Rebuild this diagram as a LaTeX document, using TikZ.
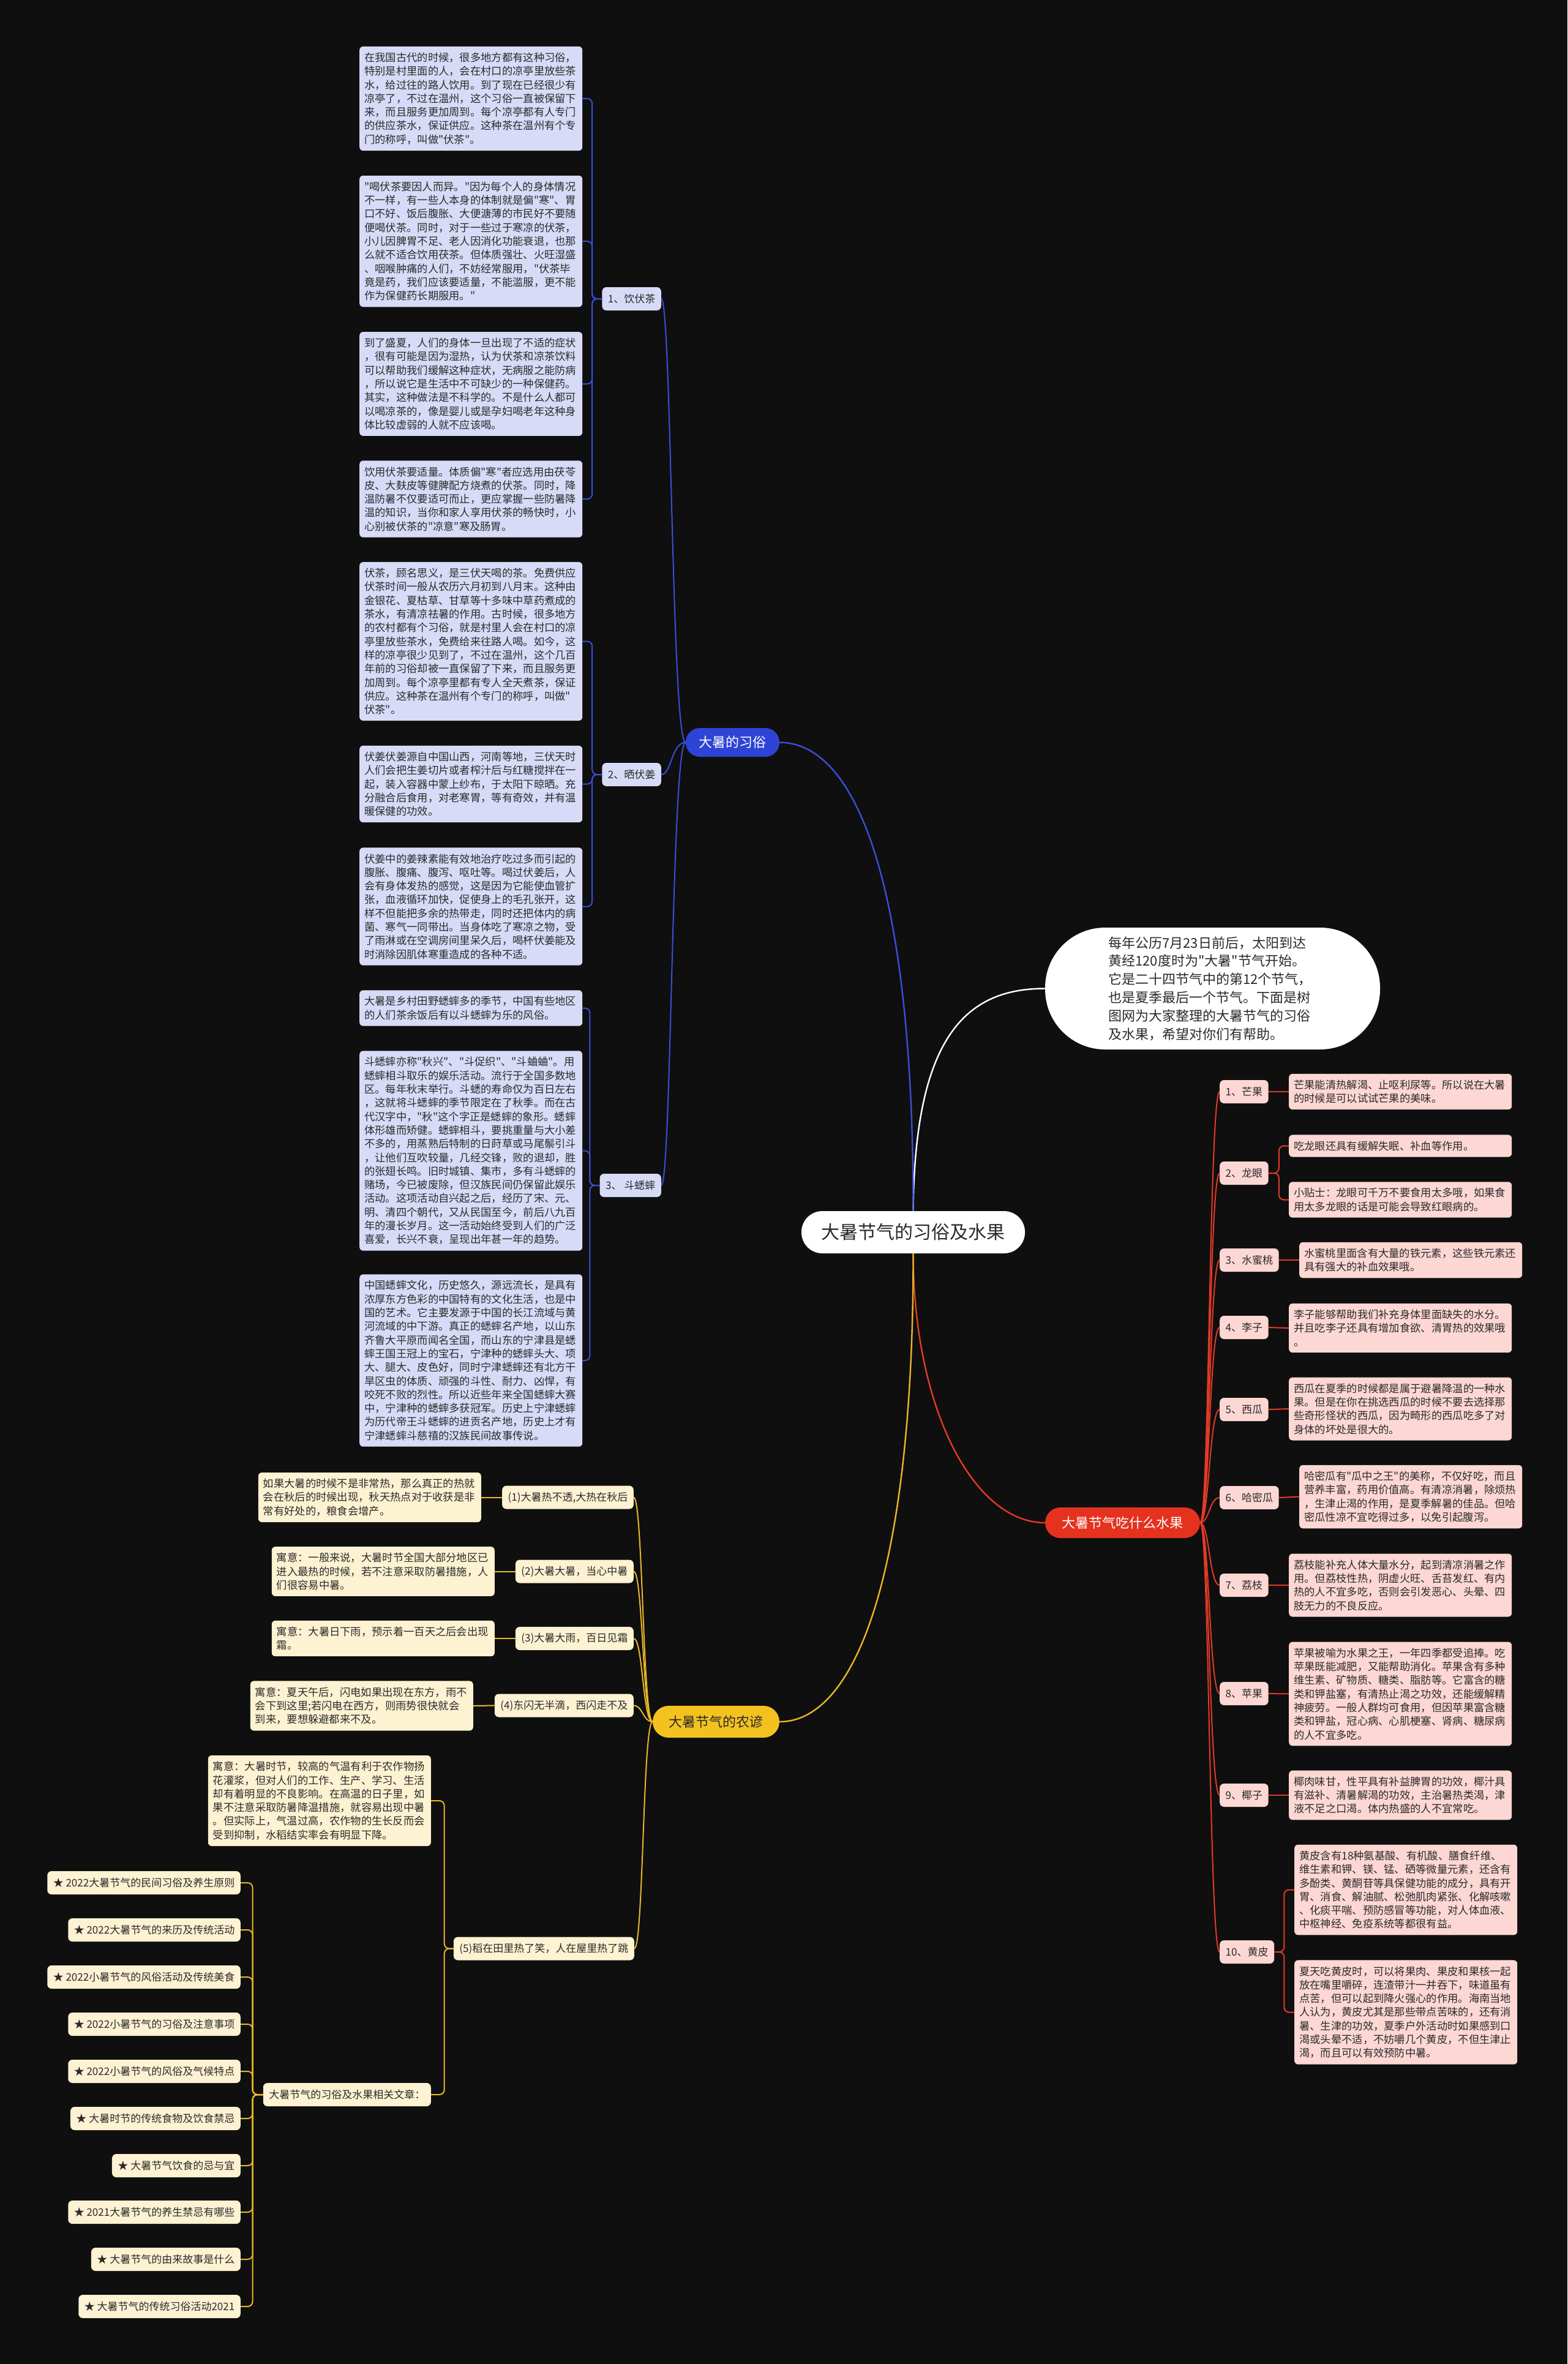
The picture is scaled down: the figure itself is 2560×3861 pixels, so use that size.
\documentclass[tikz,border=0pt]{standalone}
\usepackage{fontspec}
\newfontfamily\cjkfam{Noto Sans CJK SC}
\definecolor{bgc}{HTML}{0F0F0F}
\definecolor{lavB}{HTML}{D7DBF7}
\definecolor{pinkR}{HTML}{FCD7D3}
\definecolor{creamY}{HTML}{FDF2D2}
\definecolor{lineB}{HTML}{3A4FD9}
\definecolor{lineR}{HTML}{E33A28}
\definecolor{lineY}{HTML}{E9B726}
\definecolor{pillB}{HTML}{2E44D6}
\definecolor{pillR}{HTML}{E5321F}
\definecolor{pillY}{HTML}{F4C21F}
\definecolor{txt}{HTML}{2A2A2A}
\newcommand\leaffnt{\cjkfam\fontsize{17.3pt}{22.3pt}\selectfont}
\newcommand\subfnt{\cjkfam\fontsize{17pt}{20pt}\selectfont}
\begin{document}
\cjkfam
\begin{tikzpicture}[x=1pt,y=-1pt,
  leafbase/.style={rounded corners=6pt, text width=348pt, inner xsep=8pt, inner ysep=10pt, align=left, font=\leaffnt, text=txt},
  leafB/.style={leafbase, fill=lavB},
  leafR/.style={leafbase, fill=pinkR},
  leafY/.style={leafbase, fill=creamY},
  subbase/.style={rounded corners=7pt, minimum height=38pt, inner xsep=9.5pt, inner ysep=0pt, font=\subfnt, text=txt},
  subB/.style={subbase, fill=lavB},
  subR/.style={subbase, fill=pinkR},
  subY/.style={subbase, fill=creamY},
  lnB/.style={draw=lineB, line width=2pt, rounded corners=8pt},
  lnR/.style={draw=lineR, line width=2pt, rounded corners=8pt},
  lnY/.style={draw=lineY, line width=2pt, rounded corners=8pt},
  mainln/.style={line width=2.4pt},
]
\useasboundingbox (0,0) rectangle (2560,3861);
\fill[bgc] (0,0) rectangle (2560,3861);

% ---------- centre ----------
\node[fill=white, rounded corners=34pt, minimum width=365pt, minimum height=69pt, font=\cjkfam\fontsize{30pt}{34pt}\selectfont, text=txt] (c) at (1491.5,2012.5) {大暑节气的习俗及水果};
\node[fill=white, rounded corners=98pt, minimum width=547pt, minimum height=199pt, text width=340pt, align=left, font=\cjkfam\fontsize{22pt}{29.8pt}\selectfont, text=txt] (intro) at (1980.5,1614.5) {每年公历7月23日前后，太阳到达\\黄经120度时为"大暑"节气开始。\\它是二十四节气中的第12个节气，\\也是夏季最后一个节气。下面是树\\图网为大家整理的大暑节气的习俗\\及水果，希望对你们有帮助。};

% ---------- main pills ----------
\node[fill=pillB, rounded corners=23pt, minimum width=153pt, minimum height=47pt, font=\cjkfam\fontsize{22pt}{24pt}\selectfont, text=white] (bl) at (1196.5,1212.5) {大暑的习俗};
\node[fill=pillR, rounded corners=25pt, minimum width=253pt, minimum height=50pt, font=\cjkfam\fontsize{22pt}{24pt}\selectfont, text=white] (rd) at (1833.5,2487) {大暑节气吃什么水果};
\node[fill=pillY, rounded corners=26pt, minimum width=207pt, minimum height=52pt, font=\cjkfam\fontsize{22pt}{24pt}\selectfont, text=txt] (yl) at (1169.5,2812) {大暑节气的农谚};

\draw[mainln, white] (c.north) .. controls (1494,1690) and (1580,1614.5) .. (intro.west);
\draw[mainln, lineB] (c.north) .. controls (1492,1450) and (1400,1212.5) .. (bl.east);
\draw[mainln, lineR] (c.south) .. controls (1492,2300) and (1590,2487) .. (rd.west);
\draw[mainln, lineY] (c.south) .. controls (1492,2560) and (1400,2812) .. (yl.east);

% ---------- blue branch ----------
\node[subB, anchor=east] (b1) at (1080,488) {1、饮伏茶};
\node[subB, anchor=east] (b2) at (1080,1265) {2、晒伏姜};
\node[subB, anchor=east] (b3) at (1080,1936) {3、 斗蟋蟀};
\foreach \n in {b1,b2,b3}{\draw[lnB, rounded corners=0pt] (bl.west) .. controls +(-23,0) and +(17,0) .. (\n.east);}

\node[leafB, anchor=west] (a1) at (587,161) {在我国古代的时候，很多地方都有这种习俗，\\特别是村里面的人，会在村口的凉亭里放些茶\\水，给过往的路人饮用。到了现在已经很少有\\凉亭了，不过在温州，这个习俗一直被保留下\\来，而且服务更加周到。每个凉亭都有人专门\\的供应茶水，保证供应。这种茶在温州有个专\\门的称呼，叫做"伏茶"。};
\node[leafB, anchor=west] (a2) at (587,394) {"喝伏茶要因人而异。"因为每个人的身体情况\\不一样，有一些人本身的体制就是偏"寒"、胃\\口不好、饭后腹胀、大便溏薄的市民好不要随\\便喝伏茶。同时，对于一些过于寒凉的伏茶，\\小儿因脾胃不足、老人因消化功能衰退，也那\\么就不适合饮用茯茶。但体质强壮、火旺湿盛\\、咽喉肿痛的人们，不妨经常服用，"伏茶毕\\竟是药，我们应该要适量，不能滥服，更不能\\作为保健药长期服用。"};
\node[leafB, anchor=west] (a3) at (587,627) {到了盛夏，人们的身体一旦出现了不适的症状\\，很有可能是因为湿热，认为伏茶和凉茶饮料\\可以帮助我们缓解这种症状，无病服之能防病\\，所以说它是生活中不可缺少的一种保健药。\\其实，这种做法是不科学的。不是什么人都可\\以喝凉茶的，像是婴儿或是孕妇喝老年这种身\\体比较虚弱的人就不应该喝。};
\node[leafB, anchor=west] (a4) at (587,815) {饮用伏茶要适量。体质偏"寒"者应选用由茯苓\\皮、大麸皮等健脾配方烧煮的伏茶。同时，降\\温防暑不仅要适可而止，更应掌握一些防暑降\\温的知识，当你和家人享用伏茶的畅快时，小\\心别被伏茶的"凉意"寒及肠胃。};
\foreach \n in {a1,a2,a3,a4}{\draw[lnB] (b1.west) -- ++(-16,0) |- (\n.east);}

\node[leafB, anchor=west] (s1) at (587,1047.5) {伏茶，顾名思义，是三伏天喝的茶。免费供应\\伏茶时间一般从农历六月初到八月末。这种由\\金银花、夏枯草、甘草等十多味中草药煮成的\\茶水，有清凉祛暑的作用。古时候，很多地方\\的农村都有个习俗，就是村里人会在村口的凉\\亭里放些茶水，免费给来往路人喝。如今，这\\样的凉亭很少见到了，不过在温州，这个几百\\年前的习俗却被一直保留了下来，而且服务更\\加周到。每个凉亭里都有专人全天煮茶，保证\\供应。这种茶在温州有个专门的称呼，叫做"\\伏茶"。};
\node[leafB, anchor=west] (s2) at (587,1280.5) {伏姜伏姜源自中国山西，河南等地，三伏天时\\人们会把生姜切片或者榨汁后与红糖搅拌在一\\起，装入容器中蒙上纱布，于太阳下晾晒。充\\分融合后食用，对老寒胃，等有奇效，并有温\\暖保健的功效。};
\node[leafB, anchor=west] (s3) at (587,1480.5) {伏姜中的姜辣素能有效地治疗吃过多而引起的\\腹胀、腹痛、腹泻、呕吐等。喝过伏姜后，人\\会有身体发热的感觉，这是因为它能使血管扩\\张，血液循环加快，促使身上的毛孔张开，这\\样不但能把多余的热带走，同时还把体内的病\\菌、寒气一同带出。当身体吃了寒凉之物，受\\了雨淋或在空调房间里呆久后，喝杯伏姜能及\\时消除因肌体寒重造成的各种不适。};
\foreach \n in {s1,s2,s3}{\draw[lnB] (b2.west) -- ++(-16,0) |- (\n.east);}

\node[leafB, anchor=west] (d1) at (587,1646.5) {大暑是乡村田野蟋蟀多的季节，中国有些地区\\的人们茶余饭后有以斗蟋蟀为乐的风俗。};
\node[leafB, anchor=west] (d2) at (587,1879.5) {斗蟋蟀亦称"秋兴"、"斗促织"、"斗蛐蛐"。用\\蟋蟀相斗取乐的娱乐活动。流行于全国多数地\\区。每年秋末举行。斗蟋的寿命仅为百日左右\\，这就将斗蟋蟀的季节限定在了秋季。而在古\\代汉字中，"秋"这个字正是蟋蟀的象形。蟋蟀\\体形雄而矫健。蟋蟀相斗，要挑重量与大小差\\不多的，用蒸熟后特制的日莳草或马尾鬃引斗\\，让他们互吹较量，几经交锋，败的退却，胜\\的张翅长鸣。旧时城镇、集市，多有斗蟋蟀的\\赌场，今已被废除，但汉族民间仍保留此娱乐\\活动。这项活动自兴起之后，经历了宋、元、\\明、清四个朝代，又从民国至今，前后八九百\\年的漫长岁月。这一活动始终受到人们的广泛\\喜爱，长兴不衰，呈现出年甚一年的趋势。};
\node[leafB, anchor=west] (d3) at (587,2222) {中国蟋蟀文化，历史悠久，源远流长，是具有\\浓厚东方色彩的中国特有的文化生活，也是中\\国的艺术。它主要发源于中国的长江流域与黄\\河流域的中下游。真正的蟋蟀名产地，以山东\\齐鲁大平原而闻名全国，而山东的宁津县是蟋\\蟀王国王冠上的宝石，宁津种的蟋蟀头大、项\\大、腿大、皮色好，同时宁津蟋蟀还有北方干\\旱区虫的体质、顽强的斗性、耐力、凶悍，有\\咬死不败的烈性。所以近些年来全国蟋蟀大赛\\中，宁津种的蟋蟀多获冠军。历史上宁津蟋蟀\\为历代帝王斗蟋蟀的进贡名产地，历史上才有\\宁津蟋蟀斗慈禧的汉族民间故事传说。};
\foreach \n in {d1,d2,d3}{\draw[lnB] (b3.west) -- ++(-16,0) |- (\n.east);}

% ---------- red branch ----------
\node[subR, anchor=west] (r1) at (1992,1783) {1、芒果};
\node[subR, anchor=west] (r2) at (1992,1916) {2、龙眼};
\node[subR, anchor=west] (r3) at (1992,2058) {3、水蜜桃};
\node[subR, anchor=west] (r4) at (1992,2168) {4、李子};
\node[subR, anchor=west] (r5) at (1992,2302) {5、西瓜};
\node[subR, anchor=west] (r6) at (1992,2446) {6、哈密瓜};
\node[subR, anchor=west] (r7) at (1992,2589) {7、荔枝};
\node[subR, anchor=west] (r8) at (1992,2766) {8、苹果};
\node[subR, anchor=west] (r9) at (1992,2932) {9、椰子};
\node[subR, anchor=west] (r10) at (1992,3188) {10、黄皮};
\foreach \n in {r1,r2,r3,r4,r5,r6,r7,r8,r9,r10}{\draw[lnR, rounded corners=0pt] (rd.east) .. controls +(15,0) and +(-17,0) .. (\n.west);}

\node[leafR, anchor=west] (f1) at (2105,1783) {芒果能清热解渴、止呕利尿等。所以说在大暑\\的时候是可以试试芒果的美味。};
\node[leafR, anchor=west] (f2a) at (2105,1871.5) {吃龙眼还具有缓解失眠、补血等作用。};
\node[leafR, anchor=west] (f2b) at (2105,1959.5) {小贴士：龙眼可千万不要食用太多哦，如果食\\用太多龙眼的话是可能会导致红眼病的。};
\node[leafR, anchor=west] (f3) at (2122,2058) {水蜜桃里面含有大量的铁元素，这些铁元素还\\具有强大的补血效果哦。};
\node[leafR, anchor=west] (f4) at (2105,2169) {李子能够帮助我们补充身体里面缺失的水分。\\并且吃李子还具有增加食欲、清胃热的效果哦\\。};
\node[leafR, anchor=west] (f5) at (2105,2301) {西瓜在夏季的时候都是属于避暑降温的一种水\\果。但是在你在挑选西瓜的时候不要去选择那\\些奇形怪状的西瓜，因为畸形的西瓜吃多了对\\身体的坏处是很大的。};
\node[leafR, anchor=west] (f6) at (2122,2444.5) {哈密瓜有"瓜中之王"的美称，不仅好吃，而且\\营养丰富，药用价值高。有清凉消暑，除烦热\\，生津止渴的作用，是夏季解暑的佳品。但哈\\密瓜性凉不宜吃得过多，以免引起腹泻。};
\node[leafR, anchor=west] (f7) at (2105,2589) {荔枝能补充人体大量水分，起到清凉消暑之作\\用。但荔枝性热，阴虚火旺、舌苔发红、有内\\热的人不宜多吃，否则会引发恶心、头晕、四\\肢无力的不良反应。};
\node[leafR, anchor=west] (f8) at (2105,2766.5) {苹果被喻为水果之王，一年四季都受追捧。吃\\苹果既能减肥，又能帮助消化。苹果含有多种\\维生素、矿物质、糖类、脂肪等。它富含的糖\\类和钾盐塞，有清热止渴之功效，还能缓解精\\神疲劳。一般人群均可食用，但因苹果富含糖\\类和钾盐，冠心病、心肌梗塞、肾病、糖尿病\\的人不宜多吃。};
\node[leafR, anchor=west] (f9) at (2105,2932) {椰肉味甘，性平具有补益脾胃的功效，椰汁具\\有滋补、清暑解渴的功效，主治暑热类渴，津\\液不足之口渴。体内热盛的人不宜常吃。};
\node[leafR, anchor=west] (f10a) at (2114,3086.5) {黄皮含有18种氨基酸、有机酸、膳食纤维、\\维生素和钾、镁、锰、硒等微量元素，还含有\\多酚类、黄酮苷等具保健功能的成分，具有开\\胃、消食、解油腻、松弛肌肉紧张、化解咳嗽\\、化痰平喘、预防感冒等功能，对人体血液、\\中枢神经、免疫系统等都很有益。};
\node[leafR, anchor=west] (f10b) at (2114,3286.5) {夏天吃黄皮时，可以将果肉、果皮和果核一起\\放在嘴里嚼碎，连渣带汁一并吞下，味道虽有\\点苦，但可以起到降火强心的作用。海南当地\\人认为，黄皮尤其是那些带点苦味的，还有消\\暑、生津的功效，夏季户外活动时如果感到口\\渴或头晕不适，不妨嚼几个黄皮，不但生津止\\渴，而且可以有效预防中暑。};

\draw[lnR] (r1.east) -- (f1.west);
\draw[lnR] (r2.east) -- ++(17,0) |- (f2a.west);
\draw[lnR] (r2.east) -- ++(17,0) |- (f2b.west);
\draw[lnR] (r3.east) -- (f3.west);
\draw[lnR] (r4.east) -- (f4.west);
\draw[lnR] (r5.east) -- (f5.west);
\draw[lnR] (r6.east) -- (f6.west);
\draw[lnR] (r7.east) -- (f7.west);
\draw[lnR] (r8.east) -- (f8.west);
\draw[lnR] (r9.east) -- (f9.west);
\draw[lnR] (r10.east) -- ++(16,0) |- (f10a.west);
\draw[lnR] (r10.east) -- ++(16,0) |- (f10b.west);

% ---------- yellow branch ----------
\node[subY, anchor=east] (y1) at (1035,2445.5) {(1)大暑热不透,大热在秋后};
\node[subY, anchor=east] (y2) at (1035,2566.5) {(2)大暑大暑，当心中暑};
\node[subY, anchor=east] (y3) at (1035,2676) {(3)大暑大雨，百日见霜};
\node[subY, anchor=east] (y4) at (1035,2785.5) {(4)东闪无半滴，西闪走不及};
\node[subY, anchor=east] (y5) at (1036,3182.5) {(5)稻在田里热了笑，人在屋里热了跳};
\foreach \n in {y1,y2,y3,y4,y5}{\draw[lnY, rounded corners=0pt] (yl.west) .. controls +(-16,0) and +(15,0) .. (\n.east);}

\node[leafY, anchor=east] (g1) at (786,2445.5) {如果大暑的时候不是非常热，那么真正的热就\\会在秋后的时候出现，秋天热点对于收获是非\\常有好处的，粮食会增产。};
\node[leafY, anchor=east] (g2) at (808,2566.5) {寓意：一般来说，大暑时节全国大部分地区已\\进入最热的时候，若不注意采取防暑措施，人\\们很容易中暑。};
\node[leafY, anchor=east] (g3) at (808,2676) {寓意：大暑日下雨，预示着一百天之后会出现\\霜。};
\node[leafY, anchor=east] (g4) at (773,2786) {寓意：夏天午后，闪电如果出现在东方，雨不\\会下到这里;若闪电在西方，则雨势很快就会\\到来，要想躲避都来不及。};
\node[leafY, anchor=east] (g5) at (704,2941) {寓意：大暑时节，较高的气温有利于农作物扬\\花灌浆，但对人们的工作、生产、学习、生活\\却有着明显的不良影响。在高温的日子里，如\\果不注意采取防暑降温措施，就容易出现中暑\\。但实际上，气温过高，农作物的生长反而会\\受到抑制，水稻结实率会有明显下降。};
\node[subY, anchor=east] (rel) at (704,3421) {大暑节气的习俗及水果相关文章：};

\draw[lnY] (y1.west) -- (g1.east);
\draw[lnY] (y2.west) -- (g2.east);
\draw[lnY] (y3.west) -- (g3.east);
\draw[lnY] (y4.west) -- (g4.east);
\draw[lnY] (y5.west) -- ++(-15,0) |- (g5.east);
\draw[lnY] (y5.west) -- ++(-15,0) |- (rel.east);

\node[subY, anchor=east] (k1) at (393,3075) {★ 2022大暑节气的民间习俗及养生原则};
\node[subY, anchor=east] (k2) at (393,3152) {★ 2022大暑节气的来历及传统活动};
\node[subY, anchor=east] (k3) at (393,3229) {★ 2022小暑节气的风俗活动及传统美食};
\node[subY, anchor=east] (k4) at (393,3306) {★ 2022小暑节气的习俗及注意事项};
\node[subY, anchor=east] (k5) at (393,3383) {★ 2022小暑节气的风俗及气候特点};
\node[subY, anchor=east] (k6) at (393,3460) {★ 大暑时节的传统食物及饮食禁忌};
\node[subY, anchor=east] (k7) at (393,3537) {★ 大暑节气饮食的忌与宜};
\node[subY, anchor=east] (k8) at (393,3613) {★ 2021大暑节气的养生禁忌有哪些};
\node[subY, anchor=east] (k9) at (393,3690) {★ 大暑节气的由来故事是什么};
\node[subY, anchor=east] (k10) at (393,3767) {★ 大暑节气的传统习俗活动2021};
\foreach \n in {k1,k2,k3,k4,k5,k6,k7,k8,k9,k10}{\draw[lnY] (rel.west) -- ++(-17,0) |- (\n.east);}
\end{tikzpicture}
\end{document}
